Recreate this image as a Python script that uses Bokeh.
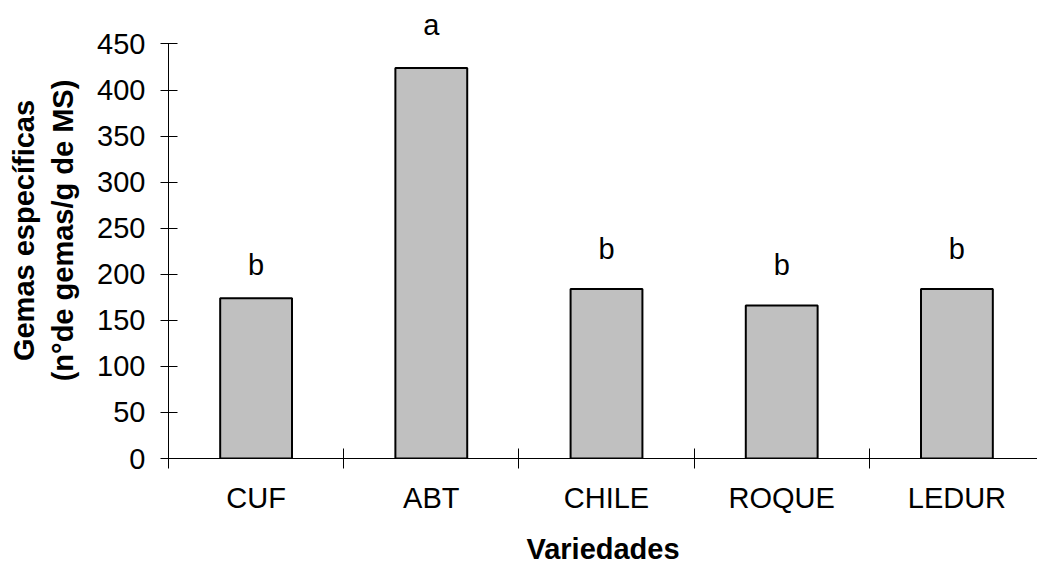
from bokeh.plotting import figure
from bokeh.models import Range1d, FixedTicker, ColumnDataSource, Title
from bokeh.core.properties import value
from bokeh.embed import file_html
from bokeh.resources import INLINE

categories = ["CUF", "ABT", "CHILE", "ROQUE", "LEDUR"]
values = [174, 424, 184, 166, 184]
letters = ["b", "a", "b", "b", "b"]
letter_y = [198, 459, 216, 198, 216]
y_ticks = [0, 50, 100, 150, 200, 250, 300, 350, 400, 450]

FONT = "Liberation Sans"
FS = "29px"

x_pos = [i + 0.5 for i in range(len(categories))]
src = ColumnDataSource(dict(x=x_pos, top=values, letter=letters, ly=letter_y, cat=categories))

p = figure(width=1037, height=567,
           x_range=Range1d(0, 4.96), y_range=Range1d(0, 495),
           output_backend="svg", toolbar_location=None,
           min_border_left=168, min_border_top=2, min_border_bottom=109, min_border_right=0)
p.outline_line_color = None
p.xgrid.visible = False
p.ygrid.visible = False
p.background_fill_color = "white"
p.border_fill_color = "white"

p.vbar(x="x", top="top", bottom=0, width=0.41, source=src,
       fill_color="#C0C0C0", line_color="black", line_width=2)

p.text(x="x", y="ly", text="letter", source=src, y_offset=-11,
       text_align="center", text_baseline="alphabetic",
       text_font=value(FONT), text_font_size=FS, text_color="black")

# x axis
xa = p.xaxis[0]
xa.ticker = FixedTicker(ticks=x_pos, minor_ticks=list(range(len(categories) + 1)))
xa.major_label_overrides = {x: c for x, c in zip(x_pos, categories)}
xa.major_tick_in = 0
xa.major_tick_out = 0
xa.minor_tick_in = 10
xa.minor_tick_out = 10
xa.minor_tick_line_color = "black"
xa.axis_line_color = "black"
xa.major_label_text_font = FONT
xa.major_label_text_font_size = FS
xa.major_label_text_color = "black"
xa.major_label_standoff = 13
xa.axis_label = "Variedades"
xa.axis_label_text_font = FONT
xa.axis_label_text_font_size = FS
xa.axis_label_text_font_style = "bold"
xa.axis_label_text_color = "black"
xa.axis_label_standoff = 16

# y axis
ya = p.yaxis[0]
ya.ticker = FixedTicker(ticks=y_ticks, minor_ticks=[])
ya.bounds = (0, 450)
ya.major_tick_in = 9
ya.major_tick_out = 8
ya.major_tick_line_color = "black"
ya.axis_line_color = "black"
ya.major_label_text_font = FONT
ya.major_label_text_font_size = FS
ya.major_label_text_color = "black"
ya.major_label_standoff = 15
ya.axis_label = "(n°de gemas/g de MS)"
ya.axis_label_text_font = FONT
ya.axis_label_text_font_size = FS
ya.axis_label_text_font_style = "bold"
ya.axis_label_text_color = "black"
ya.axis_label_standoff = 15

t = Title(text="Gemas específicas", align="center", text_font=FONT,
          text_font_size=FS, text_font_style="bold", text_color="black", standoff=10)
p.add_layout(t, "left")

open("out.html", "w").write(file_html(p, INLINE))
